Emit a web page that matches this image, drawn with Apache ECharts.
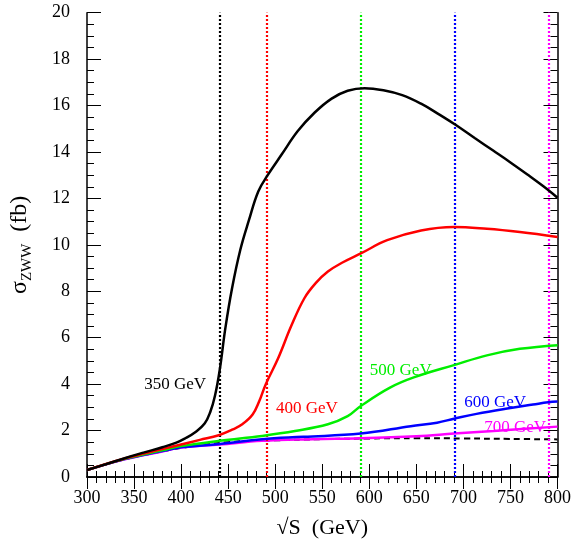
<!DOCTYPE html>
<html>
<head>
<meta charset="utf-8">
<script src="https://cdn.jsdelivr.net/npm/echarts@6/dist/echarts.min.js"></script>
<style>html,body{margin:0;padding:0;background:#fff}#c{width:574px;height:544px}</style>
</head>
<body>
<div id="c"></div>
<script>
// ---- data ----
const xTicks = [300, 350, 400, 450, 500, 550, 600, 650, 700, 750, 800];
const yTicks = [0, 2, 4, 6, 8, 10, 12, 14, 16, 18, 20];
const seriesNames = ['350 GeV', '400 GeV', '500 GeV', '600 GeV', '700 GeV'];
const thresholds = [441.2, 491.2, 591.2, 691.2, 791.2];

const mh350 = [[300,0.3],[320,0.55],[340,0.81],[360,1.05],[380,1.28],[395,1.48],[405,1.68],[415,1.93],[425,2.3],[431,2.8],[436,3.5],[441,4.6],[447,6.4],[454,8.1],[463,9.8],[472,11.05],[482,12.3],[492,13.0],[507,13.9],[524,14.9],[542,15.7],[560,16.3],[577,16.64],[595,16.75],[615,16.66],[635,16.45],[655,16.08],[675,15.6],[692,15.16],[712,14.6],[732,14.05],[750,13.55],[768,13.03],[785,12.52],[800,12.03]];
const mh400 = [[300,0.3],[340,0.8],[380,1.2],[400,1.4],[420,1.6],[440,1.8],[455,2.05],[465,2.27],[476,2.69],[483,3.26],[490,4.0],[503,5.1],[517,6.5],[531,7.7],[543,8.35],[556,8.85],[572,9.25],[591,9.63],[619,10.2],[655,10.62],[690,10.77],[725,10.69],[760,10.55],[800,10.34]];
const mh500 = [[300,0.3],[340,0.78],[380,1.15],[400,1.33],[441,1.56],[486,1.77],[521,1.98],[556,2.27],[577,2.62],[591,3.06],[622,3.85],[648,4.3],[690,4.82],[725,5.24],[760,5.52],[800,5.68]];
const mh600 = [[300,0.3],[340,0.77],[380,1.12],[400,1.28],[441,1.42],[486,1.63],[530,1.73],[591,1.87],[644,2.19],[672,2.34],[690,2.51],[714,2.72],[750,2.97],[774,3.12],[790,3.22],[800,3.25]];
const mh700 = [[300,0.3],[340,0.76],[380,1.1],[400,1.27],[441,1.4],[486,1.56],[540,1.63],[591,1.67],[650,1.76],[690,1.87],[732,1.98],[800,2.17]];
const noHiggs = [[300,0.3],[340,0.76],[380,1.1],[400,1.25],[450,1.5],[500,1.58],[550,1.63],[600,1.66],[650,1.67],[700,1.66],[750,1.64],[800,1.62]];

// ---- presentation ----
const colors = ['#000000', '#ff0000', '#00ee00', '#0000ff', '#ff00ff'];
const labelAnchors = [[393.7, 4.0], [533.6, 2.95], [633.4, 4.57], [733.8, 3.22], [754.9, 2.11]];
const FONT = 'Liberation Serif';

const chart = echarts.init(document.getElementById('c'), null, {renderer: 'canvas'});

const curves = [mh350, mh400, mh500, mh600, mh700];
const series = [];
series.push({
  name: 'no Higgs', type: 'line', data: noHiggs, showSymbol: false, smooth: 0.4,
  lineStyle: {color: '#000', width: 2, type: [6, 4]}, z: 2
});
for (let i = curves.length - 1; i >= 0; i--) {
  series.push({
    name: seriesNames[i], type: 'line', data: curves[i], showSymbol: false,
    smooth: 0.4,
    lineStyle: {color: colors[i], width: 2.5}, z: 3 + (curves.length - i),
    markLine: {
      silent: true, symbol: ['none', 'none'], animation: false,
      label: {show: false},
      lineStyle: {color: colors[i], type: [2, 2], width: 2.2, opacity: 1},
      data: [{xAxis: thresholds[i]}]
    },
    markPoint: {
      silent: true, symbol: 'circle', symbolSize: 0, animation: false,
      data: [{coord: labelAnchors[i], value: seriesNames[i]}],
      label: {show: true, position: 'inside', formatter: seriesNames[i], color: colors[i], fontSize: 17, fontFamily: FONT}
    }
  });
}

const tickStyle = {show: true, inside: true, length: 13, lineStyle: {color: '#000', width: 1}};
const minorStyle = {show: true, splitNumber: 5, length: 6, lineStyle: {color: '#000', width: 1}};
const minorStyleY = {show: true, splitNumber: 4, length: 7, lineStyle: {color: '#000', width: 1}};

chart.setOption({
  animation: false,
  backgroundColor: '#fff',
  grid: {left: 84.3, right: 16.3, top: 12.7, bottom: 60.7, containLabel: false},
  xAxis: [{
    type: 'value', min: xTicks[0], max: xTicks[xTicks.length - 1], interval: 50, position: 'bottom',
    axisLine: {show: true, lineStyle: {color: '#000', width: 1.5}},
    axisTick: tickStyle, minorTick: minorStyle, splitLine: {show: false},
    axisLabel: {color: '#000', fontSize: 18, fontFamily: FONT, margin: 12, showMinLabel: true, showMaxLabel: true},
    name: '√S  (GeV)', nameLocation: 'middle', nameGap: 40,
    nameTextStyle: {color: '#000', fontSize: 22, fontFamily: FONT}
  }, {
    type: 'value', min: xTicks[0], max: xTicks[xTicks.length - 1], interval: 50, position: 'top',
    axisLine: {show: true, lineStyle: {color: '#000', width: 1.5}},
    axisTick: Object.assign({}, tickStyle, {length: 12}), minorTick: minorStyle, splitLine: {show: false},
    axisLabel: {show: false}
  }],
  yAxis: [{
    type: 'value', min: yTicks[0], max: yTicks[yTicks.length - 1], interval: 2, position: 'left',
    axisLine: {show: true, lineStyle: {color: '#000', width: 1.5}},
    axisTick: Object.assign({}, tickStyle, {length: 14}), minorTick: minorStyleY, splitLine: {show: false},
    axisLabel: {color: '#000', fontSize: 18, fontFamily: FONT, margin: 17, showMinLabel: true, showMaxLabel: true},
    name: '{s|σ}{b|ZWW}{s|  (fb)}', nameLocation: 'middle', nameGap: 52, nameRotate: 90,
    nameTextStyle: {
      color: '#000', fontFamily: FONT,
      rich: {
        s: {fontSize: 24, fontFamily: FONT, color: '#000', lineHeight: 30, verticalAlign: 'middle'},
        b: {fontSize: 15, fontFamily: FONT, color: '#000', verticalAlign: 'bottom', lineHeight: 30, padding: [12, 0, 0, 0]}
      }
    }
  }, {
    type: 'value', min: yTicks[0], max: yTicks[yTicks.length - 1], interval: 2, position: 'right',
    axisLine: {show: true, lineStyle: {color: '#000', width: 1.5}},
    axisTick: Object.assign({}, tickStyle, {length: 14}), minorTick: minorStyleY, splitLine: {show: false},
    axisLabel: {show: false}
  }],
  series: series
});
</script>
</body>
</html>
